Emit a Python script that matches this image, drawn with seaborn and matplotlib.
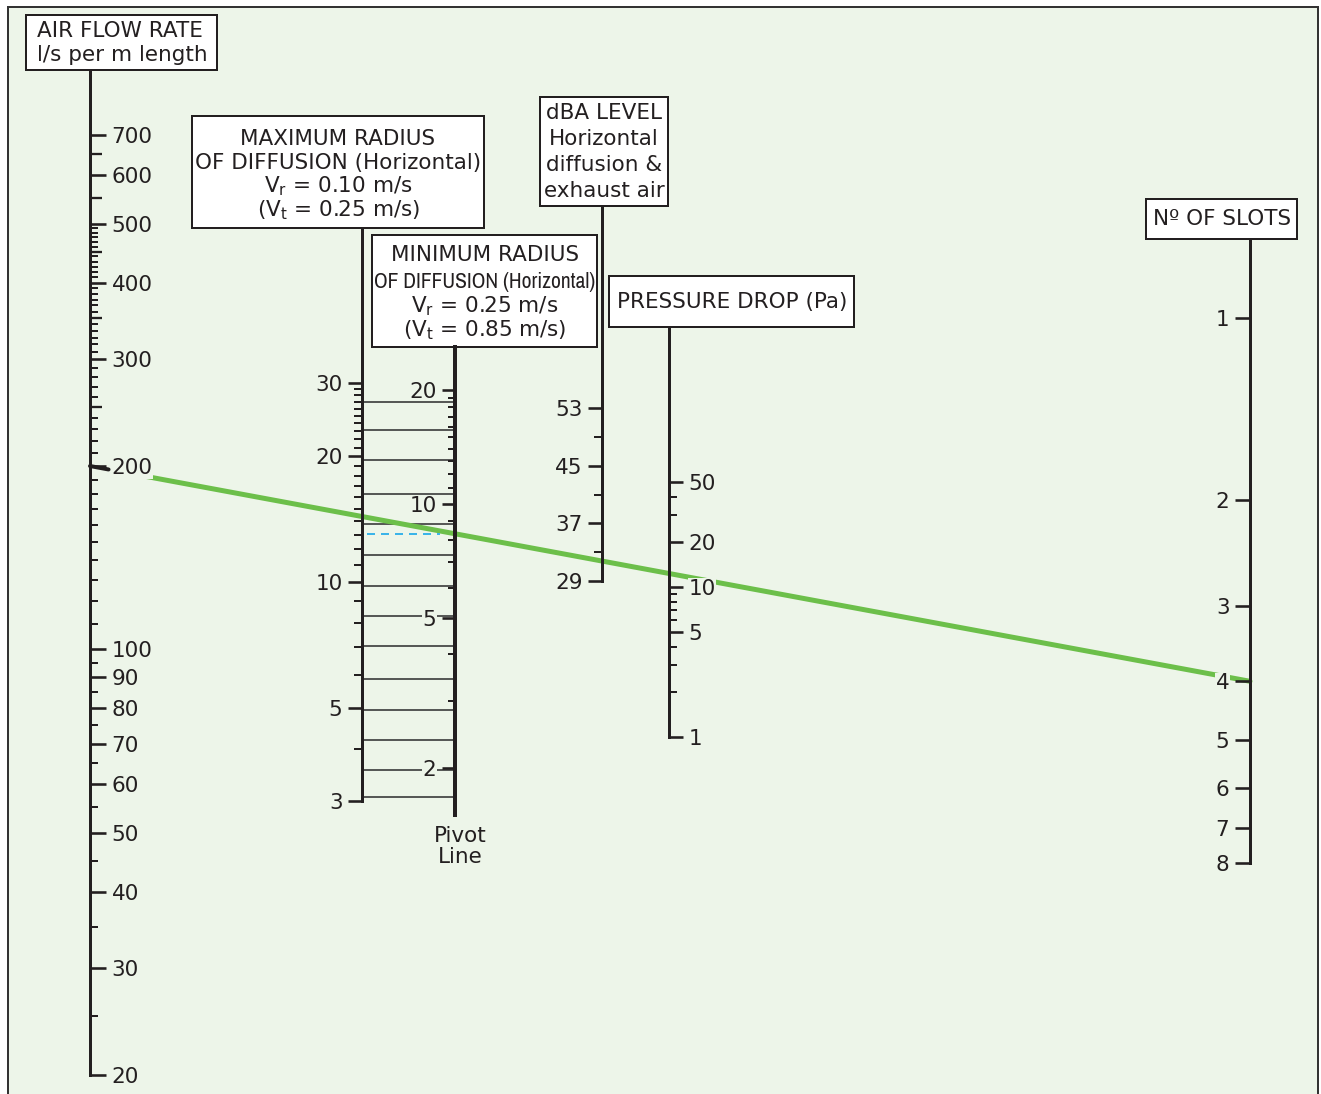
import matplotlib
matplotlib.use('Agg')
import matplotlib.pyplot as plt
from matplotlib.patches import Rectangle
from matplotlib.ticker import NullFormatter
from matplotlib import font_manager
import seaborn as sns

# ---- scale values ----
airflow_major = [20, 30, 40, 50, 60, 70, 80, 90, 100, 200, 300, 400, 500, 600, 700]
airflow_mid = [250, 350, 450, 550, 650]
airflow_minor = [25, 35, 45, 55, 65, 75, 85, 95,
                 110, 120, 130, 140, 150, 160, 170, 180, 190,
                 210, 220, 230, 240, 260, 270, 280, 290,
                 308, 317, 325, 333, 342, 358, 367, 375, 383, 392,
                 408, 417, 425, 433, 442, 458, 467, 475, 483, 492]

maxr_major = [3, 5, 10, 20, 30]
maxr_minor = [4, 6, 7, 8, 9, 11, 12, 13, 14, 15, 16, 17, 18, 19,
              21, 22, 23, 24, 25, 26, 27, 28, 29]

minr_major = [2, 5, 10, 20]
minr_minor = [3, 4, 6, 7, 8, 9, 11, 12, 13, 14, 15, 16, 17, 18, 19]

dba_major = [29, 37, 45, 53]
dba_minor = [33, 41, 49]

pressure_major = [1, 5, 10, 20, 50]
pressure_minor = [2, 3, 4, 6, 7, 8, 9, 30, 40]

slots_major = [1, 2, 3, 4, 5, 6, 7, 8]

# horizontal guide lines between the two radius scales (max radius values)
guide_radius = [3.07, 3.56, 4.2, 4.95, 5.88, 7.04, 8.31, 9.81, 11.6, 13.8, 16.3, 19.6, 23.1, 27.0]

# worked example: 200 l/s per m with 4 slots
airflow_value = 200
slots_value = 4

# ---- styling ----
W, H = 1321, 1094
PT = 0.72  # points per pixel at 100 dpi
ink = '#231F20'
bg_col = '#EDF5E9'
green = '#6CBF4A'
blue = '#3BB4E9'

sns.set_theme(style='white')
plt.rcParams['font.family'] = ['DejaVu Sans']
plt.rcParams['axes.grid'] = False

# narrow face for the squeezed line in the minimum radius box
names = sorted({f.name for f in font_manager.fontManager.ttflist})
narrow_names = [n for n in names if 'Narrow' in n or 'Condensed' in n]
if narrow_names:
    narrow = dict(family=[narrow_names[0], 'DejaVu Sans'], fontsize=15.5)
else:
    narrow = dict(family=['Liberation Sans', 'DejaVu Sans'], fontsize=13.5)

fig = plt.figure(figsize=(W / 100, H / 100), dpi=100)
bg = fig.add_axes([0, 0, 1, 1], zorder=0)
bg.set_xlim(0, W)
bg.set_ylim(H, 0)
bg.axis('off')
bg.add_patch(Rectangle((8, 7), 1310, 1100, facecolor=bg_col, edgecolor='#333333', lw=2 * PT))


def add_scale(x, top, bottom, lim, side, major, minor=(), mid=(), scale='log',
              lw=3, major_len=15, minor_len=8, mid_len=12, masked=()):
    w = 0.01
    left = x / W if side == 'left' else x / W - w
    rect = [left, (H - bottom) / H, w, (bottom - top) / H]
    ax = fig.add_axes(rect, zorder=2)
    ax.set_yscale(scale)
    ax.set_ylim(*lim)
    ax.patch.set_visible(False)
    for s in ax.spines.values():
        s.set_visible(False)
    ax.spines[side].set_visible(True)
    ax.spines[side].set_linewidth(lw * PT)
    ax.spines[side].set_color(ink)
    ax.set_xticks([])
    if side == 'left':
        ax.yaxis.tick_left()
    else:
        ax.yaxis.tick_right()
    ax.set_yticks(major, labels=[str(v) for v in major])
    ax.set_yticks(list(minor), minor=True)
    ax.yaxis.set_minor_formatter(NullFormatter())
    ax.tick_params(axis='y', which='major', direction='out', length=major_len * PT,
                   width=2.6 * PT, color=ink, labelsize=15.5, labelcolor=ink, pad=4)
    ax.tick_params(axis='y', which='minor', direction='out', length=minor_len * PT,
                   width=2.0 * PT, color=ink)
    for v, t in zip(major, ax.yaxis.get_major_ticks(len(major))):
        if v in masked:
            lbl = t.label1 if side == 'left' else t.label2
            lbl.set_bbox(dict(facecolor=bg_col, edgecolor='none', pad=0.5))
    if mid:
        ax2 = fig.add_axes(rect, zorder=2)
        ax2.set_yscale(scale)
        ax2.set_ylim(*lim)
        ax2.patch.set_visible(False)
        for s in ax2.spines.values():
            s.set_visible(False)
        ax2.set_xticks([])
        if side == 'left':
            ax2.yaxis.tick_left()
        else:
            ax2.yaxis.tick_right()
        ax2.set_yticks(list(mid), labels=[''] * len(mid))
        ax2.set_yticks([], minor=True)
        ax2.tick_params(axis='y', which='major', direction='out', length=mid_len * PT,
                        width=2.3 * PT, color=ink)
    return ax


ax_air = add_scale(90, 70, 1075, (20, 894), 'right', airflow_major, airflow_minor,
                   mid=airflow_mid, major_len=16, minor_len=8, masked=(200,))
ax_max = add_scale(362, 229, 801, (3, 70.0), 'left', maxr_major, maxr_minor,
                   major_len=14, minor_len=8)
ax_min = add_scale(455, 347, 815, (1.502, 25.98), 'left', minr_major, minr_minor,
                   lw=4, major_len=13, minor_len=7, masked=(5, 2))
ax_dba = add_scale(602, 207, 581, (29, 80.9), 'left', dba_major, dba_minor,
                   scale='linear', major_len=14, minor_len=8)
ax_pa = add_scale(669, 327, 737, (1, 541), 'right', pressure_major, pressure_minor,
                  major_len=14, minor_len=8, masked=(10,))
ax_slot = add_scale(1250, 240, 863, (8, 0.743), 'left', slots_major,
                    major_len=15, masked=(4,))


def to_bg(ax, xa, v):
    disp = ax.get_yaxis_transform().transform((xa, v))
    return bg.transData.inverted().transform(disp)


# horizontal guide lines between max radius scale and pivot line
x_max = to_bg(ax_max, 0, 3)[0]
x_piv = to_bg(ax_min, 0, 2)[0]
guide_y = [to_bg(ax_max, 0, r)[1] for r in guide_radius]
bg.hlines(guide_y, x_max, x_piv, color='#333333', lw=1.6 * PT, zorder=1)

# straight edge through the worked example
a = to_bg(ax_air, 1, airflow_value)
b = to_bg(ax_slot, 0, slots_value)
t0 = 0.0457
p0 = a + t0 * (b - a)
sns.lineplot(x=[p0[0], b[0]], y=[p0[1], b[1]], ax=bg, color=green, lw=5 * PT,
             sort=False, estimator=None, zorder=3)
p1 = a + 0.016 * (b - a)
sns.lineplot(x=[a[0], p1[0]], y=[a[1], p1[1]], ax=bg, color=ink, lw=4 * PT,
             sort=False, estimator=None, zorder=3)

# reading across from the pivot line to the max radius scale
tp = (x_piv - a[0]) / (b[0] - a[0])
y_piv = a[1] + tp * (b[1] - a[1])
bg.plot([x_max + 5, x_piv - 15], [y_piv, y_piv], color=blue, lw=2 * PT,
        ls=(0, (4, 3)), zorder=3)

# title boxes
boxes = [
    ((26, 15, 217, 70), 'left', 37,
     [('AIR FLOW RATE', 30, {}), ('l/s per m length', 54, {})]),
    ((192, 116, 484, 228), 'center', 338,
     [('MAXIMUM RADIUS', 138, {}), ('OF DIFFUSION (Horizontal)', 162, {}),
      (r'V$_{\rm r}$ = 0.10 m/s', 185, {}), (r'(V$_{\rm t}$ = 0.25 m/s)', 209, {})]),
    ((372, 235, 597, 347), 'center', 485,
     [('MINIMUM RADIUS', 254, {}), ('OF DIFFUSION (Horizontal)', 281, narrow),
      (r'V$_{\rm r}$ = 0.25 m/s', 305, {}), (r'(V$_{\rm t}$ = 0.85 m/s)', 329, {})]),
    ((540, 97, 668, 206), 'center', 604,
     [('dBA LEVEL', 112, {}), ('Horizontal', 138, {}), ('diffusion &', 164, {}),
      ('exhaust air', 190, {})]),
    ((609, 276, 854, 327), 'center', 732, [('PRESSURE DROP (Pa)', 301, {})]),
    ((1146, 199, 1297, 239), 'center', 1222, [('Nº OF SLOTS', 218, {})]),
]
for (x0, y0, x1, y1), ha, tx, lines in boxes:
    bg.add_patch(Rectangle((x0, y0), x1 - x0, y1 - y0, facecolor='white',
                           edgecolor=ink, lw=2 * PT, zorder=2))
    for txt, ty, kw in lines:
        opts = dict(fontsize=15.5, color=ink)
        opts.update(kw)
        bg.text(tx, ty + 7, txt, ha=ha, va='baseline', zorder=4, **opts)

bg.text(460, 835 + 7, 'Pivot', ha='center', va='baseline', fontsize=15.5, color=ink)
bg.text(460, 856 + 7, 'Line', ha='center', va='baseline', fontsize=15.5, color=ink)

fig.savefig('out.png', dpi=100, facecolor='white')
